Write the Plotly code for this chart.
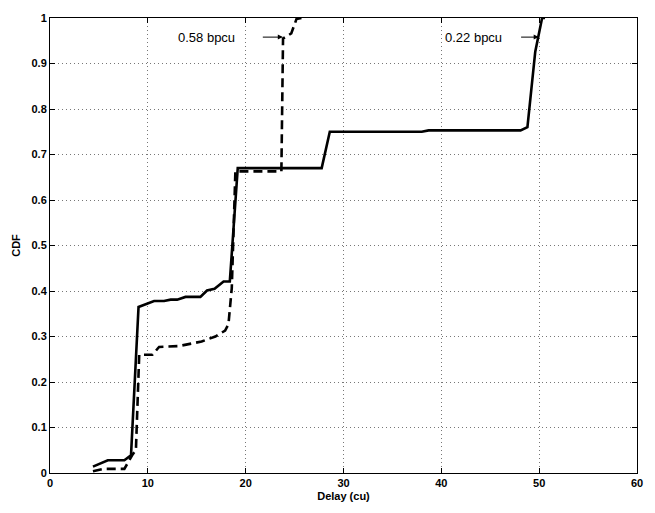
import plotly.graph_objects as go

# solid curve (0.22 bpcu)
solid_x = [4.39, 5.91, 7.6, 8.28, 9.05, 10.64, 11.66, 12.33, 13.0, 13.85, 15.37, 16.05, 16.82, 17.74, 18.38,
           19.19, 27.77, 28.6, 38.0, 38.7, 48.1, 48.8, 49.6, 50.3, 50.6]
solid_y = [0.014, 0.028, 0.028, 0.039, 0.365, 0.378, 0.378, 0.381, 0.381, 0.387, 0.387, 0.401, 0.405, 0.421, 0.421,
           0.670, 0.670, 0.750, 0.750, 0.753, 0.753, 0.760, 0.926, 1.0, 1.0]

# dashed curve (0.58 bpcu)
dashed_x = [4.39, 5.5, 7.6, 8.45, 8.78, 9.12, 10.47, 11.15, 13.18, 14.0, 15.5, 16.9, 17.9, 18.24, 18.58,
            18.95, 19.2, 23.5, 23.65, 23.82, 24.66, 25.2, 25.7]
dashed_y = [0.004, 0.009, 0.009, 0.041, 0.05, 0.26, 0.26, 0.277, 0.279, 0.283, 0.289, 0.300, 0.313, 0.327, 0.406,
            0.663, 0.663, 0.663, 0.663, 0.955, 0.966, 0.998, 1.0]

x_ticks = [0, 10, 20, 30, 40, 50, 60]
y_ticks = [0, 0.1, 0.2, 0.3, 0.4, 0.5, 0.6, 0.7, 0.8, 0.9, 1]
y_labels = ["0", "0.1", "0.2", "0.3", "0.4", "0.5", "0.6", "0.7", "0.8", "0.9", "1"]

fig = go.Figure()
fig.add_trace(go.Scatter(x=solid_x, y=solid_y, mode="lines",
                         line=dict(color="black", width=2.6), showlegend=False))
fig.add_trace(go.Scatter(x=dashed_x, y=dashed_y, mode="lines",
                         line=dict(color="black", width=2.6, dash="9px,5px"), showlegend=False))

font = dict(family="Liberation Sans, Arial, sans-serif", size=11, color="black", weight="bold")
afont = dict(family="Liberation Sans, Arial, sans-serif", size=13, color="black", weight="normal")

axis_common = dict(showline=True, linecolor="black", linewidth=1, mirror="ticks",
                   ticks="inside", ticklen=5, tickcolor="black",
                   showgrid=True, gridcolor="#777777", griddash="1px,3px", gridwidth=1,
                   zeroline=False, tickfont=font)

fig.update_xaxes(range=[0, 60], tickvals=x_ticks, title=dict(text="Delay (cu)", font=font, standoff=4),
                 **axis_common)
fig.update_yaxes(range=[0, 1], tickvals=y_ticks, ticktext=y_labels,
                 title=dict(text="CDF", font=font, standoff=8), **axis_common)

fig.add_annotation(x=23.8, y=0.958, ax=21.6, ay=0.958, xref="x", yref="y", axref="x", ayref="y",
                   text="", showarrow=True, arrowhead=2, arrowsize=1, arrowwidth=1, arrowcolor="black")
fig.add_annotation(x=12.9, y=0.958, text="0.58 bpcu", showarrow=False, font=afont,
                   xanchor="left", yanchor="middle")
fig.add_annotation(x=49.95, y=0.958, ax=48.0, ay=0.958, xref="x", yref="y", axref="x", ayref="y",
                   text="", showarrow=True, arrowhead=2, arrowsize=1, arrowwidth=1, arrowcolor="black")
fig.add_annotation(x=40.2, y=0.958, text="0.22 bpcu", showarrow=False, font=afont,
                   xanchor="left", yanchor="middle")

fig.update_layout(width=655, height=513, margin=dict(l=50, r=13, t=14, b=34),
                  plot_bgcolor="white", paper_bgcolor="white",
                  font=dict(family="Liberation Sans, Arial, sans-serif", size=11, color="black"))

fig.write_html("out.html")
